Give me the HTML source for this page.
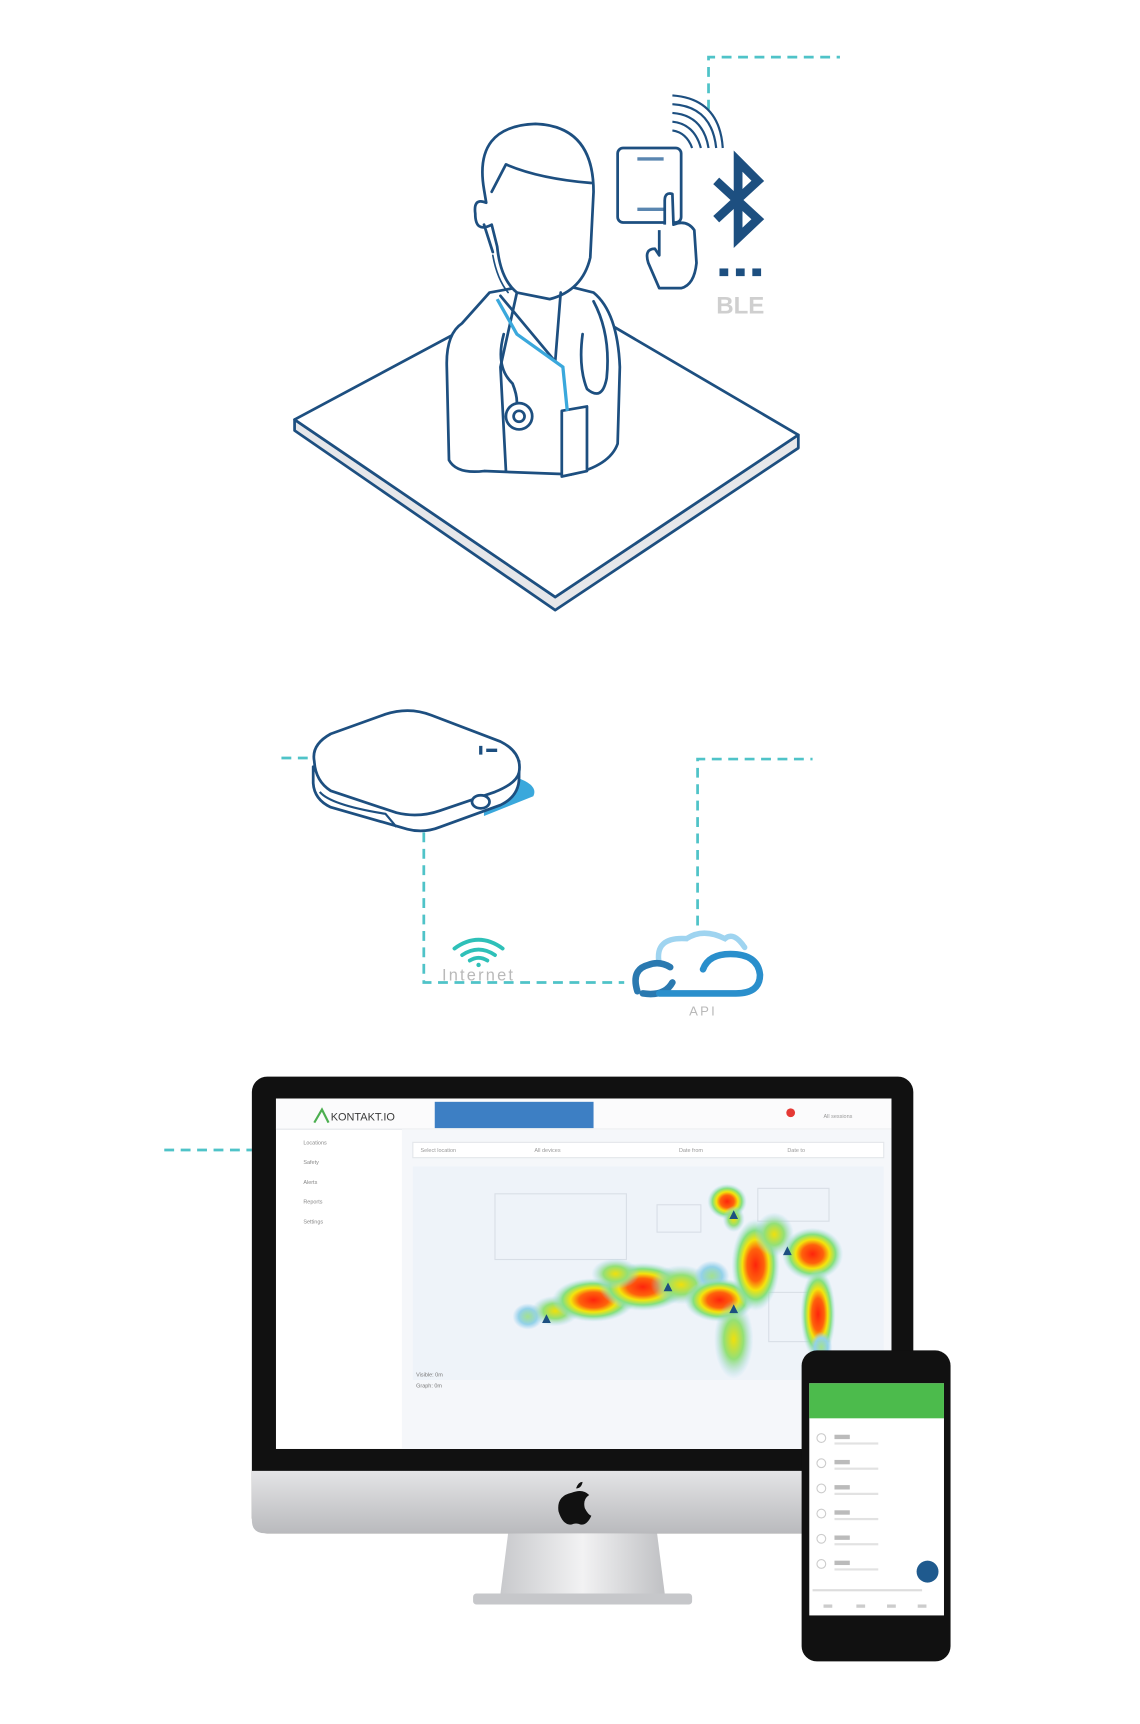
<!DOCTYPE html>
<html><head><meta charset="utf-8"><style>
html,body{margin:0;padding:0;background:#fff;}
svg{display:block;}
</style></head><body>
<svg width="1140" height="1724" viewBox="-2 -5 1041 1574" xmlns="http://www.w3.org/2000/svg" font-family="Liberation Sans, sans-serif">
<defs>
<radialGradient id="hot" cx="50%" cy="50%" r="50%">
<stop offset="0" stop-color="#ff1a00"/><stop offset="0.35" stop-color="#ff5a00"/><stop offset="0.55" stop-color="#f5e400"/><stop offset="0.75" stop-color="#7fe07a"/><stop offset="1" stop-color="#a8d8f0" stop-opacity="0"/>
</radialGradient>
<radialGradient id="warm" cx="50%" cy="50%" r="50%">
<stop offset="0" stop-color="#f0e000"/><stop offset="0.5" stop-color="#8fe070"/><stop offset="1" stop-color="#9cd0f0" stop-opacity="0"/>
</radialGradient>
<radialGradient id="cool" cx="50%" cy="50%" r="50%">
<stop offset="0" stop-color="#9fe08a"/><stop offset="0.6" stop-color="#8fd0e8"/><stop offset="1" stop-color="#9cd0f0" stop-opacity="0"/>
</radialGradient>
<linearGradient id="chin" x1="0" y1="0" x2="0" y2="1"><stop offset="0" stop-color="#e4e4e6"/><stop offset="1" stop-color="#b9babd"/></linearGradient>
<linearGradient id="stand" x1="0" y1="0" x2="1" y2="0"><stop offset="0" stop-color="#c8c9cc"/><stop offset="0.5" stop-color="#f2f2f3"/><stop offset="1" stop-color="#c0c1c4"/></linearGradient>
</defs>
<g fill="none" stroke="#4fc3c8" stroke-width="2.5" stroke-dasharray="9,6">
<path d="M645 95 V47 H765"/>
<path d="M255 687 H283"/>
<path d="M385 755 V892 H568"/>
<path d="M635 840 V688 H740"/>
<path d="M148 1045 H228"/>
</g>
<!-- platform -->
<g stroke="#1d4f80" stroke-width="2.5" stroke-linejoin="round">
<path d="M267 378 L505 540 L727 392 L727 404 L505 552 L267 388 Z" fill="#e6e7ea"/>
<path d="M267 378 L495 256 L727 392 L505 540 Z" fill="#fff"/>
</g>
<!-- doctor -->
<g stroke="#1d4f80" stroke-width="2.5" fill="#fff" stroke-linejoin="round" stroke-linecap="round">
<path d="M420 290 Q405 300 406 330 L408 415 Q415 428 440 425 L520 428 Q555 420 562 400 L564 330 Q562 280 540 262 L500 252 L445 262 Z"/>
<path d="M440 168 Q430 110 487 108 Q540 110 540 170 L537 230 Q530 260 500 268 L470 262 Q455 250 452 220 L447 200 Q432 208 432 190 Q430 175 442 180 Z"/>
<path d="M447 170 L460 145 Q490 158 538 162" fill="none"/>
<path d="M440 200 L448 225" fill="none"/>
<path d="M455 265 L505 325 L510 262" fill="none"/>
<path d="M470 262 L455 330 L460 425" fill="none"/>
<path d="M540 270 Q556 300 552 340 Q548 362 534 350 Q526 330 530 300" fill="none"/>
<circle cx="472" cy="375" r="12"/><circle cx="472" cy="375" r="5"/>
<path d="M458 300 Q450 330 466 345 Q470 355 470 362" fill="none"/>
<path d="M511 370 L534 366 L534 425 L511 430 Z"/>
<path d="M448 228 Q452 250 462 262" fill="none" stroke-width="1.5"/>
</g>
<path d="M452 268 L470 300 L512 330 L516 370" fill="none" stroke="#3aa8dc" stroke-width="3"/>
<!-- phone + hand -->
<g stroke="#1d4f80" stroke-width="2.5" fill="#fff" stroke-linejoin="round">
<rect x="562" y="130" width="58" height="68" rx="5"/>
<path d="M580 140 H604 M580 186 H604" stroke="#5a86b0" stroke-width="3"/>
<path d="M605 200 V178 Q605 170 612 172 L613 200 Q625 195 632 205 L634 235 Q632 255 620 258 H600 L590 235 Q586 222 596 222 L600 228 V205"/>
</g>
<g fill="none" stroke="#1d4f80" stroke-width="2">
<path d="M612 98 Q640 100 645 130"/><path d="M612 90 Q648 92 652 130"/><path d="M612 106 Q632 108 638 130"/><path d="M612 114 Q625 116 630 130"/><path d="M612 82 Q655 85 658 130"/>
</g>
<path d="M652 160 L690 195 L672 212 V142 L690 160 L652 195" fill="none" stroke="#1d4f80" stroke-width="8" stroke-linejoin="miter"/>
<g fill="#1d4f80"><rect x="655" y="240" width="8" height="7"/><rect x="670" y="240" width="8" height="7"/><rect x="685" y="240" width="8" height="7"/></g>
<text x="674" y="281" font-size="22" font-weight="bold" fill="#cfcfcf" text-anchor="middle">BLE</text>
<!-- gateway -->
<g stroke="#1d4f80" stroke-width="2.5" stroke-linejoin="round">
<path d="M470 705 Q490 712 485 722 L440 740 Q438 725 470 705 Z" fill="#3aa8dc" stroke="none"/>
<path d="M284 695 V710 Q285 725 300 732 L370 752 Q385 756 400 750 L455 730 Q472 722 472 705 V690 Z" fill="#fff"/>
<path d="M290 718 Q300 730 350 738 L360 750" fill="none" stroke-width="2"/>
<path d="M285 690 Q282 675 300 665 L350 647 Q372 640 392 648 L455 672 Q475 682 472 700 Q470 710 450 718 L400 735 Q380 742 360 737 L300 717 Q286 708 285 690 Z" fill="#fff"/>
<ellipse cx="437" cy="727" rx="8" ry="6" fill="#fff"/>
<path d="M437 676 V684 M442 680 H452" stroke-width="3"/>
</g>
<!-- wifi / internet -->
<g fill="none" stroke="#2ec0b8" stroke-width="3.5" stroke-linecap="round">
<path d="M413 861 Q435 845 457 861"/><path d="M420 867 Q435 857 450 867"/><path d="M427 872 Q435 867 443 872"/>
</g>
<circle cx="435" cy="876" r="2" fill="#2ec0b8"/>
<text x="435" y="890" font-size="15" fill="#b9b9b9" text-anchor="middle" letter-spacing="2">Internet</text>
<!-- cloud -->
<g fill="none" stroke-linecap="round">
<path d="M600 875 Q595 850 625 852 Q640 842 660 852 Q668 845 678 860" stroke="#9fd4f0" stroke-width="5"/>
<path d="M580 900 Q574 880 590 876 Q600 872 610 878 M612 892 Q605 905 585 902" stroke="#2a79b0" stroke-width="6"/>
<path d="M640 880 Q645 866 665 866 Q690 866 692 885 Q692 902 670 902 H600" stroke="#2a8fcc" stroke-width="6"/>
</g>
<text x="640" y="922" font-size="12" fill="#b9b9b9" text-anchor="middle" letter-spacing="2">API</text>
<!-- monitor -->
<rect x="228" y="978" width="604" height="417" rx="14" fill="#111"/>
<path d="M228 1338 H832 V1383 Q832 1395 820 1395 H240 Q228 1395 228 1383 Z" fill="url(#chin)"/>
<path d="M520 1358 q10 -4 16 2 q-6 4 -4 12 q3 6 6 7 q-4 9 -10 8 q-4 -2 -8 0 q-8 1 -12 -12 q-2 -14 12 -17 Z M524 1354 q2 -6 6 -6 q-1 6 -6 6Z" fill="#111"/>
<path d="M462 1395 H598 L605 1450 H455 Z" fill="url(#stand)"/>
<rect x="430" y="1450" width="200" height="10" rx="3" fill="#c6c7ca"/>
<rect x="250" y="998" width="562" height="320" fill="#fff"/>
<rect x="250" y="998" width="562" height="28" fill="#fbfbfc"/>
<line x1="250" y1="1026" x2="812" y2="1026" stroke="#e3e6ea"/>
<rect x="395" y="1001" width="145" height="24" fill="#3d7fc4"/>
<text x="300" y="1018" font-size="10" fill="#3a3a3a">KONTAKT.IO</text>
<path d="M285 1020 L292 1008 L298 1020" fill="none" stroke="#4caf50" stroke-width="2"/>
<circle cx="720" cy="1011" r="4" fill="#e53935"/>
<text x="750" y="1016" font-size="5" fill="#999">All sessions</text>
<rect x="365" y="1026" width="447" height="292" fill="#f5f7fa"/>
<rect x="375" y="1038" width="430" height="14" fill="#fff" stroke="#e3e6ea"/>
<g fill="#999" font-size="5"><text x="382" y="1047">Select location</text><text x="486" y="1047">All devices</text><text x="618" y="1047">Date from</text><text x="717" y="1047">Date to</text></g>
<rect x="375" y="1060" width="430" height="195" fill="#eef3f9"/>
<g fill="none" stroke="#d8dee6" stroke-width="1"><rect x="450" y="1085" width="120" height="60"/><rect x="598" y="1095" width="40" height="25"/><rect x="690" y="1080" width="65" height="30"/><rect x="700" y="1175" width="55" height="45"/></g>
<g fill="#888" font-size="5"><text x="275" y="1040">Locations</text><text x="275" y="1058">Safety</text><text x="275" y="1076">Alerts</text><text x="275" y="1094">Reports</text><text x="275" y="1112">Settings</text></g>
<g opacity="0.95">
<ellipse cx="662" cy="1092" rx="18" ry="16" fill="url(#hot)"/>
<ellipse cx="668" cy="1108" rx="10" ry="12" fill="url(#warm)"/>
<ellipse cx="480" cy="1197" rx="14" ry="12" fill="url(#cool)"/>
<ellipse cx="505" cy="1192" rx="22" ry="14" fill="url(#warm)"/>
<ellipse cx="540" cy="1182" rx="38" ry="20" fill="url(#hot)"/>
<ellipse cx="585" cy="1170" rx="40" ry="22" fill="url(#hot)"/>
<ellipse cx="560" cy="1158" rx="22" ry="14" fill="url(#warm)"/>
<ellipse cx="620" cy="1168" rx="28" ry="18" fill="url(#warm)"/>
<ellipse cx="648" cy="1160" rx="16" ry="14" fill="url(#cool)"/>
<ellipse cx="655" cy="1182" rx="32" ry="20" fill="url(#hot)"/>
<ellipse cx="668" cy="1218" rx="18" ry="36" fill="url(#warm)"/>
<ellipse cx="688" cy="1150" rx="22" ry="42" fill="url(#hot)"/>
<ellipse cx="705" cy="1122" rx="18" ry="20" fill="url(#warm)"/>
<ellipse cx="740" cy="1140" rx="28" ry="24" fill="url(#hot)"/>
<ellipse cx="745" cy="1195" rx="16" ry="42" fill="url(#hot)"/>
<ellipse cx="748" cy="1225" rx="10" ry="14" fill="url(#cool)"/>
</g>
<g fill="#1d4f80"><path d="M497 1195 l4 8 h-8z M608 1166 l4 8 h-8z M668 1186 l4 8 h-8z M717 1133 l4 8 h-8z M668 1100 l4 8 h-8z"/></g>
<g fill="#777" font-size="5"><text x="378" y="1252">Visible: 0m</text><text x="378" y="1262">Graph: 0m</text></g>
<!-- phone -->
<rect x="730" y="1228" width="136" height="284" rx="14" fill="#111"/>
<rect x="737" y="1258" width="123" height="212" fill="#fff"/>
<rect x="737" y="1258" width="123" height="32" fill="#4cbb4c"/>
<g fill="#bbb"><rect x="760" y="1305" width="14" height="4"/><rect x="760" y="1328" width="14" height="4"/><rect x="760" y="1351" width="14" height="4"/><rect x="760" y="1374" width="14" height="4"/><rect x="760" y="1397" width="14" height="4"/><rect x="760" y="1420" width="14" height="4"/></g>
<g fill="#e2e2e2"><rect x="760" y="1312" width="40" height="2"/><rect x="760" y="1335" width="40" height="2"/><rect x="760" y="1358" width="40" height="2"/><rect x="760" y="1381" width="40" height="2"/><rect x="760" y="1404" width="40" height="2"/><rect x="760" y="1427" width="40" height="2"/></g>
<g fill="none" stroke="#ccc"><circle cx="748" cy="1308" r="4"/><circle cx="748" cy="1331" r="4"/><circle cx="748" cy="1354" r="4"/><circle cx="748" cy="1377" r="4"/><circle cx="748" cy="1400" r="4"/><circle cx="748" cy="1423" r="4"/></g>
<g fill="#ddd"><rect x="740" y="1446" width="100" height="2"/></g>
<g fill="#ccc"><rect x="750" y="1460" width="8" height="3"/><rect x="780" y="1460" width="8" height="3"/><rect x="808" y="1460" width="8" height="3"/><rect x="836" y="1460" width="8" height="3"/></g>
<circle cx="845" cy="1430" r="10" fill="#1f5a8e"/>
</svg>
</body></html>
